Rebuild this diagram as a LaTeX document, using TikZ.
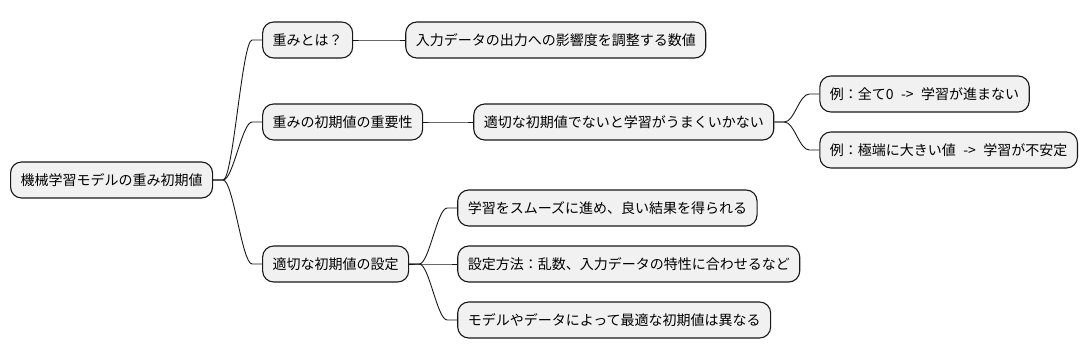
\documentclass[tikz,border=0pt]{standalone}
\usepackage{fontspec}
\setmainfont{Noto Sans CJK JP}
\usepackage{tikz}
\usetikzlibrary{positioning, calc}
\definecolor{nodeBg}{RGB}{241, 241, 241}
\definecolor{nodeBorder}{RGB}{24, 24, 24}
\definecolor{lineColor}{RGB}{24, 24, 24}

\newcommand{\branch}[2]{%
  \draw[branchLine] (#1.east) -- ++(10pt,0)
    .. controls +(10pt,0) and +(-10pt,0) .. ($(#2.west)+(-10pt,0)$) -- (#2.west);}
\newcommand{\arrowtext}{\hspace{7.5pt}->\hspace{7.5pt}}

\begin{document}
\begin{tikzpicture}[
    font=\fontsize{14pt}{17pt}\selectfont,
    topic/.style={rectangle, rounded corners=11pt, fill=nodeBg, draw=nodeBorder, line width=1.1pt,
      minimum height=36pt, inner xsep=10pt, inner ysep=0pt, text=black},
    branchLine/.style={draw=lineColor, line width=0.9pt}
]
    \useasboundingbox (0,0) rectangle (1088pt,-358pt);

    % Nodes
    \node[topic, anchor=west] (root) at (10pt,-180pt) {機械学習モデルの重み初期値};

    \node[topic, right=49pt of root, yshift=140pt] (what) {重みとは？};
    \node[topic, right=52pt of what] (whatDef) {入力データの出力への影響度を調整する数値};

    \node[topic, right=49pt of root, yshift=58pt] (why) {重みの初期値の重要性};
    \node[topic, right=50pt of why] (whyBad) {適切な初期値でないと学習がうまくいかない};
    \node[topic, right=45pt of whyBad, yshift=28pt] (exZero) {例：全て0\arrowtext 学習が進まない};
    \node[topic, right=45pt of whyBad, yshift=-28pt] (exLarge) {例：極端に大きい値\arrowtext 学習が不安定};

    \node[topic, right=49pt of root, yshift=-84pt] (how) {適切な初期値の設定};
    \node[topic, right=48pt of how, yshift=56pt] (howGood) {学習をスムーズに進め、良い結果を得られる};
    \node[topic, right=48pt of how] (howMethod) {設定方法：乱数、入力データの特性に合わせるなど};
    \node[topic, right=48pt of how, yshift=-56pt] (howModel) {モデルやデータによって最適な初期値は異なる};

    % Branches
    \branch{root}{what}
    \branch{root}{why}
    \branch{root}{how}
    \branch{what}{whatDef}
    \branch{why}{whyBad}
    \branch{whyBad}{exZero}
    \branch{whyBad}{exLarge}
    \branch{how}{howGood}
    \branch{how}{howMethod}
    \branch{how}{howModel}

\end{tikzpicture}
\end{document}
